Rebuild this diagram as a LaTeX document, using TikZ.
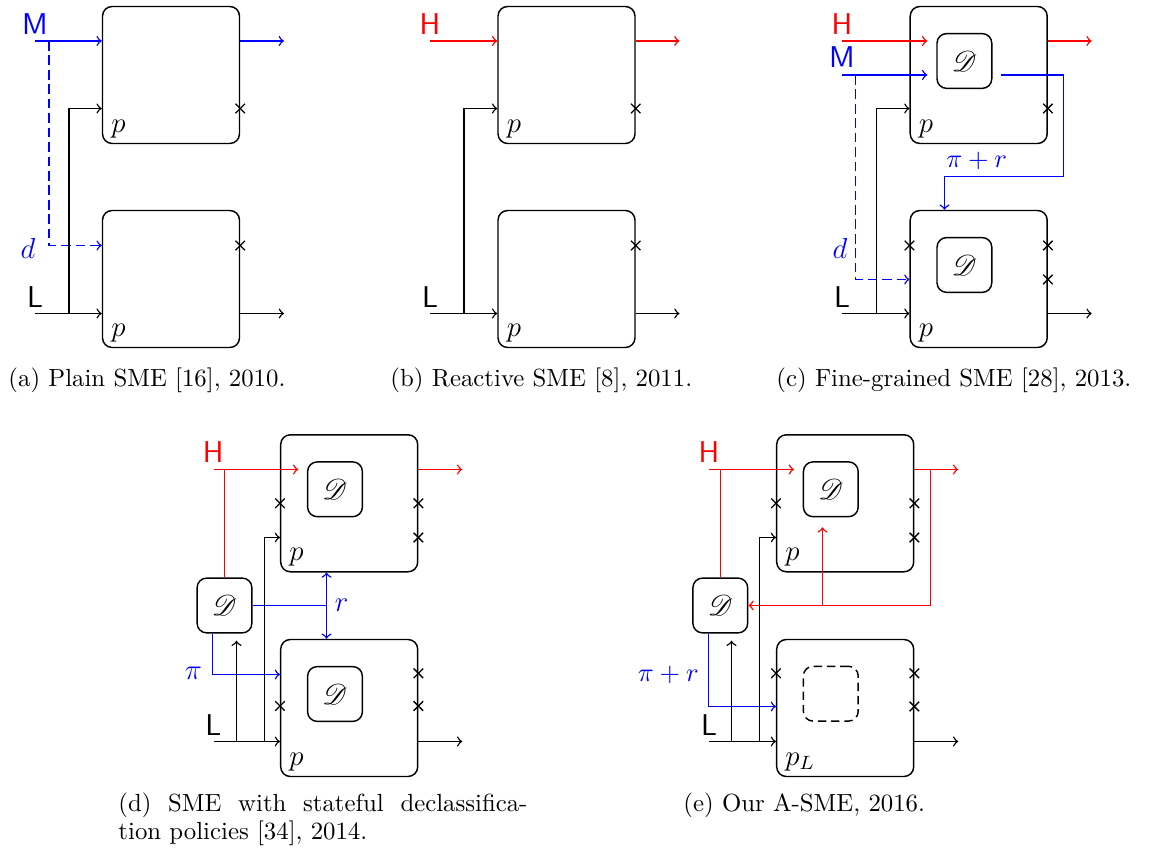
\documentclass[tikz,border=0pt]{standalone}
\usepackage{amsmath}
\usepackage{mathrsfs}
\usetikzlibrary{shapes.misc,calc}

\tikzset{
  mod/.style={draw, rounded corners=4pt, minimum size=2cm, inner sep=0pt, line width=0.6pt},
  decl/.style={draw, rounded corners=4pt, minimum size=0.8cm, inner sep=0pt, line width=0.6pt, font=\fontsize{13}{15}\selectfont},
  ghost/.style={draw, dash pattern=on 3.5pt off 2pt, rounded corners=4pt, minimum size=0.8cm, inner sep=0pt, line width=0.6pt},
  xmark/.style={draw, cross out, minimum size=3.4pt, inner sep=0pt, line width=0.55pt},
  lev/.style={font=\sffamily\fontsize{12.5}{15}\selectfont, inner sep=0pt},
  lab/.style={font=\fontsize{12}{14}\selectfont, inner sep=0pt},
  labs/.style={font=\fontsize{10.5}{12}\selectfont, inner sep=0pt},
  plab/.style={font=\fontsize{12}{14}\selectfont, inner sep=0pt, anchor=base west},
  captxt/.style={font=\fontsize{10.3}{12}\selectfont, anchor=base west, inner sep=0pt},
  wire/.style={line width=0.6pt},
  arr/.style={wire, ->},
  dsh/.style={dash pattern=on 4pt off 2pt},
}

\begin{document}
\begin{tikzpicture}[x=0.4154pt, y=-0.4154pt]
\useasboundingbox (0,0) rectangle (1152,855);

% ================= (a) =================
\node[mod] (A1) at (171,75) {};
\node[mod] (A2) at (171,279) {};
\node[plab] (ap1) at ($(A1.south west)+(9,-12)$) {$p$};
\node[plab] (ap2) at ($(A2.south west)+(9,-12)$) {$p$};
\coordinate (aM) at (35,41);
\node[lev, text=blue] (aMl) at (35,24) {M};
\draw[arr, blue] (aM) -- (aM -| A1.west);
\coordinate (aMo) at (284,41);
\draw[arr, blue] (A1.east |- aM) -- (aMo);
\coordinate (aD1) at (49,41);
\coordinate (aD2) at (49,245.5);
\draw[arr, blue, dsh] (aD1) -- (aD2) -- (aD2 -| A2.west);
\node[lab, text=blue] (adl) at (28,248) {$d$};
\coordinate (aL) at (35,313.5);
\node[lev] (aLl) at (35,297) {L};
\draw[arr] (aL) -- (aL -| A2.west);
\coordinate (aV) at (69,313.5);
\coordinate (aV2) at (69,108.5);
\draw[arr] (aV) -- (aV2) -- (aV2 -| A1.west);
\coordinate (aLo) at (284,313.5);
\draw[arr] (aL -| A2.east) -- (aLo);
\node[xmark] (ax1) at (A1.east |- aV2) {};
\node[xmark] (ax2) at (A2.east |- aD2) {};

% ================= (b) =================
\node[mod] (B1) at (566.5,75) {};
\node[mod] (B2) at (566.5,279) {};
\node[plab] (bp1) at ($(B1.south west)+(9,-12)$) {$p$};
\node[plab] (bp2) at ($(B2.south west)+(9,-12)$) {$p$};
\coordinate (bH) at (430,41);
\node[lev, text=red] (bHl) at (430,24) {H};
\draw[arr, red] (bH) -- (bH -| B1.west);
\coordinate (bHo) at (679.5,41);
\draw[arr, red] (B1.east |- bH) -- (bHo);
\coordinate (bL) at (430,313.5);
\node[lev] (bLl) at (430,297) {L};
\draw[arr] (bL) -- (bL -| B2.west);
\coordinate (bV) at (464,313.5);
\coordinate (bV2) at (464,108.5);
\draw[arr] (bV) -- (bV2) -- (bV2 -| B1.west);
\coordinate (bLo) at (679.5,313.5);
\draw[arr] (bL -| B2.east) -- (bLo);
\node[xmark] (bx1) at (B1.east |- bV2) {};
\node[xmark] (bx2) at (B2.east |- 0,245.5) {};

% ================= (c) =================
\node[mod] (C1) at (978.7,75) {};
\node[mod] (C2) at (978.7,279) {};
\node[decl] (C1d) at (964.4,61) {$\mathscr{D}$};
\node[decl] (C2d) at (964.4,265) {$\mathscr{D}$};
\node[plab] (cp1) at ($(C1.south west)+(9,-12)$) {$p$};
\node[plab] (cp2) at ($(C2.south west)+(9,-12)$) {$p$};
\coordinate (cH) at (842,41);
\node[lev, text=red] (cHl) at (842,24) {H};
\coordinate (cHe) at (927.3,41);
\draw[arr, red] (cH) -- (cHe);
\coordinate (cHo) at (1091.7,41);
\draw[arr, red] (C1.east |- cH) -- (cHo);
\coordinate (cM) at (842,75);
\node[lev, text=blue] (cMl) at (842,57.5) {M};
\coordinate (cMe) at (927.3,75);
\draw[arr, blue] (cM) -- (cMe);
\coordinate (cB1) at (1001,75);
\coordinate (cB2) at (1063.5,75);
\coordinate (cB3) at (1063.5,176.5);
\coordinate (cB4) at (944.5,176.5);
\draw[arr, blue] (cB1) -- (cB2) -- (cB3) -- (cB4) -- (cB4 |- C2.north);
\node[labs, text=blue] (cpr) at (976.7,161) {$\pi+r$};
\coordinate (cD1) at (855.5,75);
\coordinate (cD2) at (855.5,279.5);
\draw[arr, blue, dsh] (cD1) -- (cD2) -- (cD2 -| C2.west);
\node[lab, text=blue] (cdl) at (840,248) {$d$};
\coordinate (cL) at (842,313.5);
\node[lev] (cLl) at (842,297) {L};
\draw[arr] (cL) -- (cL -| C2.west);
\coordinate (cV) at (876.5,313.5);
\coordinate (cV2) at (876.5,108.5);
\draw[arr] (cV) -- (cV2) -- (cV2 -| C1.west);
\coordinate (cLo) at (1091.7,313.5);
\draw[arr] (cL -| C2.east) -- (cLo);
\node[xmark] (cx1) at (C1.east |- cV2) {};
\node[xmark] (cx2) at (C2.west |- 0,245.5) {};
\node[xmark] (cx3) at (C2.east |- 0,245.5) {};
\node[xmark] (cx4) at (C2.east |- cD2) {};

% ================= (d) =================
\node[mod] (D1) at (349.2,503.3) {};
\node[mod] (D2) at (349.2,708) {};
\node[decl] (D1d) at (335,489.3) {$\mathscr{D}$};
\node[decl] (D2d) at (335,694) {$\mathscr{D}$};
\node[decl] (Dl) at (224.5,605.5) {$\mathscr{D}$};
\node[plab] (dp1) at ($(D1.south west)+(9,-12)$) {$p$};
\node[plab] (dp2) at ($(D2.south west)+(9,-12)$) {$p$};
\coordinate (dH) at (213.5,469.5);
\node[lev, text=red] (dHl) at (213.3,452) {H};
\coordinate (dHe) at (298.3,469.5);
\draw[arr, red] (dH) -- (dHe);
\draw[wire, red] (Dl.north) -- (Dl.north |- dH);
\coordinate (dHo) at (462.3,469.5);
\draw[arr, red] (D1.east |- dH) -- (dHo);
\coordinate (dr) at (326.5,605.5);
\draw[wire, blue] (Dl.east) -- (dr);
\draw[wire, blue, <->] (dr |- D1.south) -- (dr |- D2.north);
\node[lab, text=blue] (drl) at (341.7,605.7) {$r$};
\coordinate (dpi) at (212.5,674.5);
\draw[arr, blue] (Dl.south -| dpi) -- (dpi) -- (dpi -| D2.west);
\node[lab, text=blue] (dpil) at (193.3,673.3) {$\pi$};
\coordinate (dL) at (213.5,741.5);
\node[lev] (dLl) at (213.3,725) {L};
\draw[arr] (dL) -- (dL -| D2.west);
\coordinate (du) at (236.5,741.5);
\coordinate (dut) at (236.5,640.7);
\draw[arr] (du) -- (dut);
\coordinate (dv) at (264.5,741.5);
\coordinate (dv2) at (264.5,537.5);
\draw[arr] (dv) -- (dv2) -- (dv2 -| D1.west);
\coordinate (dLo) at (462.3,741.5);
\draw[arr] (dL -| D2.east) -- (dLo);
\node[xmark] (dx1) at (D1.west |- 0,503.3) {};
\node[xmark] (dx2) at (D1.east |- 0,503.3) {};
\node[xmark] (dx3) at (D1.east |- dv2) {};
\node[xmark] (dx4) at (D2.west |- 0,706) {};
\node[xmark] (dx5) at (D2.east |- 0,673.3) {};
\node[xmark] (dx6) at (D2.east |- 0,706) {};

% ================= (e) =================
\node[mod] (E1) at (845.2,503.3) {};
\node[mod] (E2) at (845.2,708) {};
\node[decl] (E1d) at (830.8,489.3) {$\mathscr{D}$};
\node[ghost] (E2d) at (830.8,693.7) {};
\node[decl] (El) at (720.3,605.5) {$\mathscr{D}$};
\node[plab] (ep1) at ($(E1.south west)+(9,-12)$) {$p$};
\node[plab] (ep2) at ($(E2.south west)+(9,-12)$) {$p_L$};
\coordinate (eH) at (709,469.5);
\node[lev, text=red] (eHl) at (709,452) {H};
\coordinate (eHe) at (794,469.5);
\draw[arr, red] (eH) -- (eHe);
\draw[wire, red] (El.north) -- (El.north |- eH);
\coordinate (eHo) at (958.3,469.5);
\draw[arr, red] (E1.east |- eH) -- (eHo);
\coordinate (eR1) at (930.5,469.5);
\coordinate (eR2) at (930.5,605.5);
\draw[arr, red] (eR1) -- (eR2) -- (El.east);
\coordinate (eB) at (822.5,605.5);
\coordinate (eBt) at (822.5,527.3);
\draw[arr, red] (eB) -- (eBt);
\coordinate (epi) at (708.5,706.5);
\draw[arr, blue] (El.south -| epi) -- (epi) -- (epi -| E2.west);
\node[labs, text=blue] (epil) at (668.3,675) {$\pi+r$};
\coordinate (eL) at (709,741.5);
\node[lev] (eLl) at (709,725) {L};
\draw[arr] (eL) -- (eL -| E2.west);
\coordinate (eu) at (731.5,741.5);
\coordinate (eut) at (731.5,640.7);
\draw[arr] (eu) -- (eut);
\coordinate (ev) at (759.5,741.5);
\coordinate (ev2) at (759.5,537.5);
\draw[arr] (ev) -- (ev2) -- (ev2 -| E1.west);
\coordinate (eLo) at (958.3,741.5);
\draw[arr] (eL -| E2.east) -- (eLo);
\node[xmark] (ex1) at (E1.west |- 0,503.3) {};
\node[xmark] (ex2) at (E1.east |- 0,503.3) {};
\node[xmark] (ex3) at (E1.east |- ev2) {};
\node[xmark] (ex4) at (E2.west |- 0,673.3) {};
\node[xmark] (ex5) at (E2.east |- 0,673.3) {};
\node[xmark] (ex6) at (E2.east |- epi) {};

% ================= captions =================
\node[captxt] (capa) at (8,387) {(a) Plain SME [16], 2010.};
\node[captxt] (capb) at (390,387) {(b) Reactive SME [8], 2011.};
\node[captxt] (capc) at (776,387) {(c) Fine-grained SME [28], 2013.};
\node[captxt] (capd1) at (118,812) {\makebox[169.9pt][s]{(d) SME with stateful declassifica-}};
\node[captxt] (capd2) at (118,840) {tion policies [34], 2014.};
\node[captxt] (cape) at (683,812) {(e) Our A-SME, 2016.};
\end{tikzpicture}
\end{document}
